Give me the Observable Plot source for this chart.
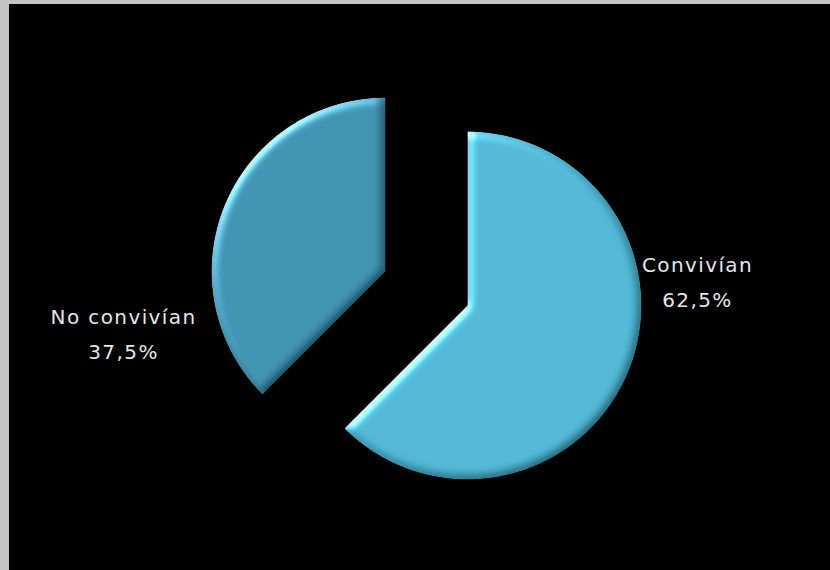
<!DOCTYPE html>
<html>
<head>
<meta charset="utf-8">
<script src="https://cdn.jsdelivr.net/npm/d3@7"></script>
<script src="https://cdn.jsdelivr.net/npm/@observablehq/plot@0.6"></script>
<style>
  html, body { margin: 0; padding: 0; background: #c4c4c4; }
  #frame { position: absolute; left: 9px; top: 4px; width: 821px; height: 566px; background: #000; overflow: hidden; }
  #frame svg { display: block; }
</style>
</head>
<body>
<div id="frame"></div>
<script>
// ---- data ----
const categories = ["Convivían", "No convivían"];
const values = [62.5, 37.5];
const valueLabels = ["62,5%", "37,5%"];

// ---- styling / layout constants ----
const colors = ["#4db4d1", "#3c8fac"];
const explode = [0, 0.51];          // fraction of radius
const W = 821, H = 566, R = 174, CX = 458, CY = 301;

const arcs = d3.pie().sort(null).value(d => d)(values);
const slices = arcs.map((a, i) => {
  const mid = (a.startAngle + a.endAngle) / 2;
  const ox = explode[i] * Math.sin(mid), oy = explode[i] * Math.cos(mid);
  const pts = [{cat: categories[i], x: ox, y: oy}];
  const n = Math.ceil((a.endAngle - a.startAngle) / (Math.PI / 360));
  for (let k = 0; k <= n; k++) {
    const t = a.startAngle + (a.endAngle - a.startAngle) * k / n;
    pts.push({cat: categories[i], x: ox + Math.sin(t), y: oy + Math.cos(t)});
  }
  pts.push({cat: categories[i], x: ox, y: oy});
  return {cat: categories[i], label: categories[i] + "\n" + valueLabels[i], ox, oy, side: Math.sin(mid) >= 0 ? 1 : -1, pts};
});
const points = slices.flatMap(s => s.pts);

const chart = Plot.plot({
  width: W, height: H, margin: 0,
  style: "background:#000; font-family:'DejaVu Sans', Verdana, sans-serif; letter-spacing:1.4px;",
  x: {domain: [-CX / R, (W - CX) / R], axis: null},
  y: {domain: [-(H - CY) / R, CY / R], axis: null},
  color: {domain: categories, range: colors},
  marks: [
    Plot.line(points, {x: "x", y: "y", z: "cat", fill: "cat", stroke: "none", curve: "linear"}),
    Plot.text(slices.filter(s => s.side > 0), {
      x: s => s.ox + 1, y: s => s.oy, text: "label",
      fill: "#e6e6e6", fontSize: 20, lineHeight: 1.75, textAnchor: "middle", dx: 56, dy: -27
    }),
    Plot.text(slices.filter(s => s.side < 0), {
      x: s => s.ox - 1, y: s => s.oy, text: "label",
      fill: "#e6e6e6", fontSize: 20, lineHeight: 1.75, textAnchor: "middle", dx: -88, dy: 59
    })
  ]
});

// soft bevel-like lighting on the slices (light from upper left)
const ns = "http://www.w3.org/2000/svg";
const defs = document.createElementNS(ns, "defs");
defs.innerHTML = `
<filter id="bevel" x="-10%" y="-10%" width="120%" height="120%" color-interpolation-filters="sRGB">
  <feGaussianBlur in="SourceAlpha" stdDeviation="5" result="blur"/>
  <feSpecularLighting in="blur" surfaceScale="3" specularConstant="0.75" specularExponent="20" lighting-color="#ffffff" result="spec">
    <feDistantLight azimuth="225" elevation="30"/>
  </feSpecularLighting>
  <feComposite in="spec" in2="SourceAlpha" operator="in" result="specIn"/>
  <feDiffuseLighting in="blur" surfaceScale="3" diffuseConstant="1" lighting-color="#ffffff" result="diff">
    <feDistantLight azimuth="225" elevation="60"/>
  </feDiffuseLighting>
  <feComposite in="SourceGraphic" in2="diff" operator="arithmetic" k1="1.15" k2="0" k3="0" k4="0" result="shaded"/>
  <feComposite in="shaded" in2="SourceAlpha" operator="in" result="shadedIn"/>
  <feComposite in="shadedIn" in2="specIn" operator="arithmetic" k1="0" k2="1" k3="0.6" k4="0"/>
</filter>`;
chart.insertBefore(defs, chart.firstChild);
chart.querySelectorAll('g[aria-label="line"] path').forEach(p => p.setAttribute("filter", "url(#bevel)"));

document.getElementById("frame").appendChild(chart);
</script>
</body>
</html>
